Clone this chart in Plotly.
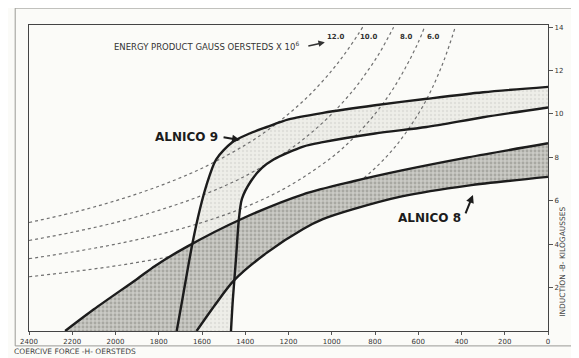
"""Demagnetization curves for Alnico 8 and Alnico 9 with energy product lines."""

from __future__ import annotations

import plotly.graph_objects as go

# --- Data (H in oersteds, B in kilogausses) ---------------------------------
ALNICO9_OUTER_H = [1717, 1690, 1645, 1610, 1580, 1535, 1460, 1380, 1300, 1200, 1040, 800, 560, 300, 0]
ALNICO9_OUTER_B = [0.0, 1.5, 4.0, 5.6, 6.7, 7.9, 8.7, 9.1, 9.4, 9.75, 10.05, 10.4, 10.7, 11.0, 11.25]

ALNICO9_INNER_H = [1466, 1457, 1443, 1429, 1415, 1374, 1324, 1269, 1132, 1041, 800, 562, 300, 0]
ALNICO9_INNER_B = [0.0, 1.5, 3.3, 5.2, 6.1, 6.9, 7.5, 7.9, 8.5, 8.7, 9.1, 9.4, 9.85, 10.3]

ALNICO8_UPPER_H = [2233, 2100, 1900, 1817, 1667, 1420, 1132, 900, 676, 370, 0]
ALNICO8_UPPER_B = [0.0, 1.0, 2.4, 3.0, 3.9, 5.15, 6.3, 6.9, 7.4, 8.0, 8.65]

ALNICO8_LOWER_H = [1625, 1540, 1452, 1301, 1132, 1041, 904, 676, 370, 0]
ALNICO8_LOWER_B = [0.0, 1.2, 2.33, 3.6, 4.7, 5.15, 5.6, 6.2, 6.7, 7.1]

# energy product lines, gauss-oersteds x 10^6
EP12_H = [2400, 2200, 2000, 1800, 1600, 1400, 1300, 1200, 1100, 1000, 940, 880, 857]
EP12_B = [5.0, 5.45, 6.0, 6.67, 7.5, 8.57, 9.23, 10.0, 10.9, 12.0, 12.77, 13.64, 14.0]
EP10_H = [2400, 2200, 2000, 1800, 1600, 1400, 1200, 1100, 1000, 900, 840, 780, 714]
EP10_B = [4.17, 4.55, 5.0, 5.56, 6.25, 7.14, 8.33, 9.09, 10.0, 11.1, 11.9, 12.8, 14.0]
EP8_H = [2400, 2200, 2000, 1800, 1600, 1400, 1200, 1000, 900, 800, 720, 650, 600, 571]
EP8_B = [3.33, 3.64, 4.0, 4.44, 5.0, 5.71, 6.67, 8.0, 8.89, 10.0, 11.1, 12.3, 13.3, 14.0]
EP6_H = [2400, 2200, 2000, 1800, 1600, 1400, 1200, 1000, 900, 800, 700, 600, 540, 480, 429]
EP6_B = [2.5, 2.73, 3.0, 3.33, 3.75, 4.29, 5.0, 6.0, 6.67, 7.5, 8.57, 10.0, 11.1, 12.5, 14.0]

EP_LABELS = ["12.0", "10.0", "8.0", "6.0"]
EP_LABEL_H = [936, 781, 616, 489]

X_TICKS = [2400, 2200, 2000, 1800, 1600, 1400, 1200, 1000, 800, 600, 400, 200, 0]
Y_TICKS = [2, 4, 6, 8, 10, 12, 14]

FONT = "DejaVu Sans"
INK = "#1c1c1c"
GREY = "#707070"


def _band(upper_h, upper_b, lower_h, lower_b):
    # closed polygon: along the upper curve, back along the lower one
    return upper_h + lower_h[::-1], upper_b + lower_b[::-1]


def main() -> None:
    fig = go.Figure()

    # --- Alnico 9 band (light) ---------------------------------------------
    bx, by = _band(ALNICO9_OUTER_H, ALNICO9_OUTER_B, ALNICO9_INNER_H, ALNICO9_INNER_B)
    fig.add_scatter(
        x=bx, y=by, mode="lines", fill="toself", line=dict(width=0),
        fillcolor="#ecece7",
        fillpattern=dict(shape=".", bgcolor="#eeeee9", fgcolor="#d0d0ca", size=4, solidity=0.3),
        hoverinfo="skip",
    )

    # --- energy product lines ----------------------------------------------
    for hs, bs in [(EP12_H, EP12_B), (EP10_H, EP10_B), (EP8_H, EP8_B), (EP6_H, EP6_B)]:
        fig.add_scatter(
            x=hs, y=bs, mode="lines",
            line=dict(color=GREY, width=1.2, dash="dot", shape="spline"),
            hoverinfo="skip",
        )

    # --- Alnico 8 band (dark stipple) --------------------------------------
    bx, by = _band(ALNICO8_UPPER_H, ALNICO8_UPPER_B, ALNICO8_LOWER_H, ALNICO8_LOWER_B)
    fig.add_scatter(
        x=bx, y=by, mode="lines", fill="toself", line=dict(width=0),
        fillcolor="#c0c0bb",
        fillpattern=dict(shape=".", bgcolor="#cacac5", fgcolor="#85857f", size=4, solidity=0.4),
        hoverinfo="skip",
    )

    # --- outlines ------------------------------------------------------------
    for hs, bs in [
        (ALNICO9_OUTER_H, ALNICO9_OUTER_B),
        (ALNICO9_INNER_H, ALNICO9_INNER_B),
        (ALNICO8_UPPER_H, ALNICO8_UPPER_B),
        (ALNICO8_LOWER_H, ALNICO8_LOWER_B),
    ]:
        fig.add_scatter(
            x=hs, y=bs, mode="lines",
            line=dict(color=INK, width=2.4, shape="spline", smoothing=0.8),
            hoverinfo="skip",
        )

    # --- labels --------------------------------------------------------------
    anns = [
        dict(x=1671, y=8.92, text="<b>ALNICO 9</b>", showarrow=False,
             font=dict(family=FONT, size=12, color=INK)),
        dict(x=1424, y=8.8, text="", showarrow=True, ax=-18, ay=-3,
             arrowhead=2, arrowsize=0.8, arrowwidth=2, arrowcolor=INK),
        dict(x=548, y=5.2, text="<b>ALNICO 8</b>", showarrow=False,
             font=dict(family=FONT, size=12, color=INK)),
        dict(x=347, y=6.27, text="", showarrow=True, ax=-8, ay=20,
             arrowhead=2, arrowsize=0.8, arrowwidth=2, arrowcolor=INK),
        dict(x=2014, y=13.13, text="ENERGY PRODUCT GAUSS OERSTEDS X 10<sup>6</sup>",
             showarrow=False, xanchor="left",
             font=dict(family=FONT, size=8.5, color="#333")),
        dict(x=1032, y=13.3, text="", showarrow=True, ax=-18, ay=4,
             arrowhead=2, arrowsize=0.8, arrowwidth=1.6, arrowcolor="#333"),
        dict(xref="paper", yref="paper", x=-0.032, y=-0.066, xanchor="left",
             yanchor="middle", text="COERCIVE FORCE -H- OERSTEDS", showarrow=False,
             font=dict(family=FONT, size=7.5, color="#444")),
        dict(xref="paper", y=3.2, x=1.04, text="INDUCTION -B- KILOGAUSSES",
             textangle=-90, showarrow=False,
             font=dict(family=FONT, size=7.5, color="#444")),
    ]
    for lab, h in zip(EP_LABELS, EP_LABEL_H):
        anns.append(dict(x=h, y=13.55, text=f"<b>{lab}</b>", showarrow=False,
                         xanchor="right", font=dict(family=FONT, size=7, color="#333")))

    # the page body keeps an 8px margin, so the figure is 8px smaller than the window
    fig.update_layout(
        width=571,
        height=350,
        margin=dict(l=14, r=31, t=17, b=25),
        paper_bgcolor="#fbfbf8",
        plot_bgcolor="#fbfbf8",
        showlegend=False,
        annotations=anns,
        xaxis=dict(
            range=[2400, 0], tickvals=X_TICKS, ticktext=[str(v) for v in X_TICKS],
            ticks="outside", ticklen=3, tickcolor="#555",
            showline=True, linecolor="#444", linewidth=1.2, mirror=True,
            showgrid=False, zeroline=False,
            tickfont=dict(family=FONT, size=7, color="#333"),
        ),
        yaxis=dict(
            range=[0, 14.1], side="right", tickvals=Y_TICKS,
            ticks="outside", ticklen=4, tickcolor="#555",
            showline=True, linecolor="#444", linewidth=1.2, mirror=True,
            showgrid=False, zeroline=False,
            tickfont=dict(family=FONT, size=7, color="#333"),
        ),
        shapes=[
            # outer border of the scanned page
            dict(type="rect", xref="paper", yref="paper",
                 x0=-0.0266, x1=1.0475, y0=-0.0487, y1=1.0552,
                 line=dict(color="#9a9a96", width=1)),
        ],
    )

    fig.write_html("out.html")


if __name__ == "__main__":
    main()
